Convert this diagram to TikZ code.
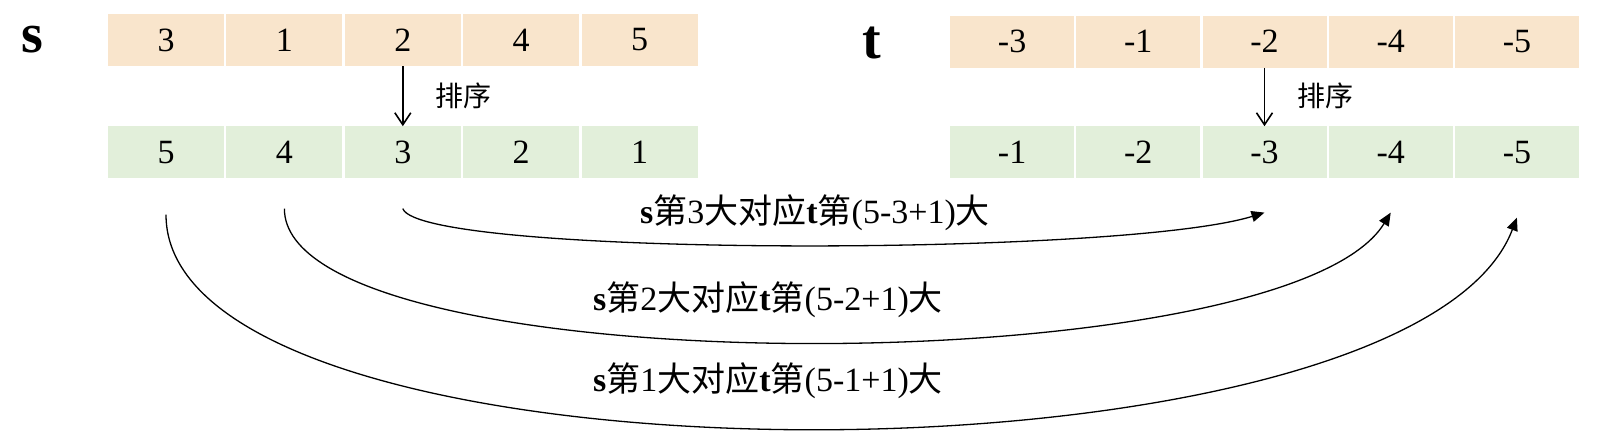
\documentclass[tikz,border=0pt]{standalone}
\usepackage{fontspec}
\setmainfont{Liberation Serif}
\newfontfamily\cjk{Noto Sans CJK SC}
\usepackage{tikz}
\usetikzlibrary{arrows.meta,positioning}
\definecolor{srcorange}{RGB}{249,229,204}
\definecolor{sortgreen}{RGB}{226,239,218}
\newcommand{\zh}[1]{{\cjk #1}}
\tikzstyle{cell} = [inner sep=0pt, minimum height=52pt, font=\fontsize{34}{40}\selectfont]
\tikzstyle{sbox} = [cell, minimum width=116pt]
\tikzstyle{tbox} = [cell, minimum width=124pt]
\tikzstyle{rowname} = [inner sep=0pt, font=\fontsize{56}{60}\selectfont\bfseries]
\tikzstyle{sortnote} = [inner sep=0pt, font=\fontsize{28}{32}\selectfont\cjk]
\tikzstyle{maplabel} = [inner sep=0pt, font=\fontsize{34}{38}\selectfont]
\tikzstyle{sortarrow} = [line width=1.6pt, -{Straight Barb[length=12pt,width=16pt]}]
\tikzstyle{maparrow} = [line width=1.3pt, -{Triangle[length=13pt,width=11pt]}]

\begin{document}
\begin{tikzpicture}[x=1pt, y=-1pt]
\useasboundingbox (0,0) rectangle (1610,437);

% s: original and sorted
\node[rowname] (slab) at (32,40) {s};
\node[sbox, fill=srcorange] (s1) at (166,40) {3};
\node[sbox, fill=srcorange] (s2) at (284.4,40) {1};
\node[sbox, fill=srcorange] (s3) at (402.8,40) {2};
\node[sbox, fill=srcorange] (s4) at (521.2,40) {4};
\node[sbox, fill=srcorange] (s5) at (639.6,40) {5};
\node[sbox, fill=sortgreen] (sr1) at (166,152.4) {5};
\node[sbox, fill=sortgreen] (sr2) at (284.4,152.4) {4};
\node[sbox, fill=sortgreen] (sr3) at (402.8,152.4) {3};
\node[sbox, fill=sortgreen] (sr4) at (521.2,152.4) {2};
\node[sbox, fill=sortgreen] (sr5) at (639.6,152.4) {1};
\draw[sortarrow] (s3.south) -- (sr3.north);
\node[sortnote] (snote) at (463,96) {排序};

% t: original and sorted
\node[rowname] (tlab) at (872,43) {t};
\node[tbox, fill=srcorange] (t1) at (1012.1,41.7) {-3};
\node[tbox, fill=srcorange] (t2) at (1138.3,41.7) {-1};
\node[tbox, fill=srcorange] (t3) at (1264.5,41.7) {-2};
\node[tbox, fill=srcorange] (t4) at (1390.7,41.7) {-4};
\node[tbox, fill=srcorange] (t5) at (1516.9,41.7) {-5};
\node[tbox, fill=sortgreen] (tr1) at (1012.1,152.4) {-1};
\node[tbox, fill=sortgreen] (tr2) at (1138.3,152.4) {-2};
\node[tbox, fill=sortgreen] (tr3) at (1264.5,152.4) {-3};
\node[tbox, fill=sortgreen] (tr4) at (1390.7,152.4) {-4};
\node[tbox, fill=sortgreen] (tr5) at (1516.9,152.4) {-5};
\draw[sortarrow] (t3.south) -- (tr3.north);
\node[sortnote] (tnote) at (1325,96) {排序};

% k-th largest of s goes to (5-k+1)-th of t
\draw[maparrow] ([yshift=-30pt]sr3.south) .. controls (420,257) and (1120,257) .. ([yshift=-34pt]tr3.south);
\draw[maparrow] ([yshift=-30pt]sr2.south) .. controls (284,386) and (1285,386) .. ([yshift=-34pt]tr4.south);
\draw[maparrow] ([yshift=-36pt]sr1.south) .. controls (166,499) and (1410,499) .. ([yshift=-39pt]tr5.south);
\node[maplabel] (lab3) at (815,213) {\textbf{s}\zh{第}3\zh{大对应}\textbf{t}\zh{第}(5-3+1)\zh{大}};
\node[maplabel] (lab2) at (768,300) {\textbf{s}\zh{第}2\zh{大对应}\textbf{t}\zh{第}(5-2+1)\zh{大}};
\node[maplabel] (lab1) at (768,381) {\textbf{s}\zh{第}1\zh{大对应}\textbf{t}\zh{第}(5-1+1)\zh{大}};
\end{tikzpicture}
\end{document}
